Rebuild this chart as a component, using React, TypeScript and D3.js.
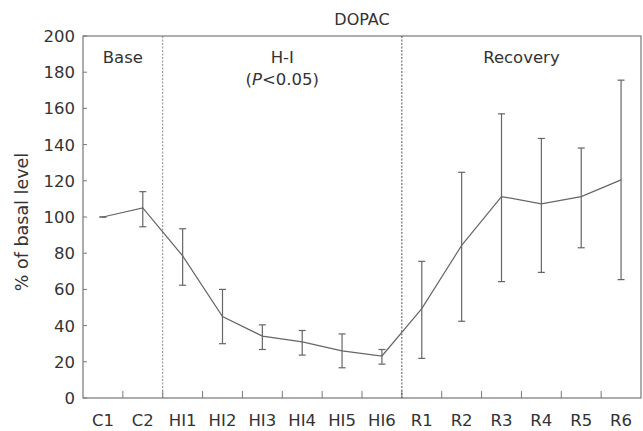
import React from "react";
import * as d3 from "d3";

const categories = ["C1", "C2", "HI1", "HI2", "HI3", "HI4", "HI5", "HI6", "R1", "R2", "R3", "R4", "R5", "R6"];
const means = [100, 105, 78.5, 45, 34.2, 31, 26, 23.2, 49.4, 84.3, 111.3, 107.3, 111.3, 120.5];
const upper = [100, 114, 93.5, 60, 40.4, 37.3, 35.4, 26.8, 75.5, 124.7, 157, 143.4, 138.1, 175.6];
const lower = [100, 94.6, 62.3, 30, 26.8, 23.7, 16.7, 18.7, 21.9, 42.4, 64.3, 69.4, 83, 65.4];
const yTicks = [0, 20, 40, 60, 80, 100, 120, 140, 160, 180, 200];
const phases = [
  { from: "C1", to: "C2", label: ["Base"] },
  { from: "HI1", to: "HI6", label: ["H-I", "(P<0.05)"] },
  { from: "R1", to: "R6", label: ["Recovery"] },
];
const title = "DOPAC";
const yTitle = "% of basal level";

const W = 643, H = 431;
const M = { left: 83, right: 2, top: 36, bottom: 33 };
const FONT = "'DejaVu Sans', Verdana, sans-serif";

export default function App() {
  const x = d3.scaleBand<string>().domain(categories).range([M.left, W - M.right]).padding(0);
  const y = d3.scaleLinear().domain([0, 200]).range([H - M.bottom, M.top]);
  const cx = (c: string) => (x(c) as number) + x.bandwidth() / 2;
  const line = d3.line<number>().x((_, i) => cx(categories[i])).y((d) => y(d));
  const axisColor = "#777";
  const dataColor = "#666";
  const textColor = "#333";
  const x0 = M.left, x1 = W - M.right, yb = y(0), yt = y(200);
  const boundaries = categories.slice(1).map((c) => x(c) as number);
  const dividers = [x("HI1") as number, x("R1") as number];
  const capHalf = 3.5;
  return (
    <svg width={W} height={H} style={{ position: "absolute", left: 0, top: 0, background: "#fff" }} fontFamily={FONT}>
      <text x={(x0 + x1) / 2} y={25} textAnchor="middle" fontSize={16} fill={textColor}>{title}</text>
      <rect x={x0} y={yt} width={x1 - x0} height={yb - yt} fill="none" stroke={axisColor} strokeWidth={1.2} />
      {yTicks.map((t) => (
        <g key={t}>
          <line x1={x0} x2={x0 + 4} y1={y(t)} y2={y(t)} stroke={axisColor} strokeWidth={1} />
          <text x={x0 - 8} y={y(t)} dy="0.36em" textAnchor="end" fontSize={16.5} fill={textColor}>{t}</text>
        </g>
      ))}
      {boundaries.map((b, i) => (
        <line key={i} x1={b} x2={b} y1={yb} y2={yb - 7} stroke={axisColor} strokeWidth={1} />
      ))}
      {categories.map((c) => (
        <text key={c} x={cx(c)} y={yb + 28} textAnchor="middle" fontSize={16.5} fill={textColor}>{c}</text>
      ))}
      <text transform={`translate(28,${(yt + yb) / 2 + 5}) rotate(-90)`} textAnchor="middle" fontSize={17.5} fill={textColor}>{yTitle}</text>
      {dividers.map((d, i) => (
        <line key={i} x1={d} x2={d} y1={yt} y2={yb} stroke={i === 0 ? "#888" : "#555"} strokeWidth={1} strokeDasharray="2,1.5" />
      ))}
      {phases.map((p, i) => {
        const px = ((x(p.from) as number) + (x(p.to) as number) + x.bandwidth()) / 2;
        return (
          <text key={i} x={px} y={63} textAnchor="middle" fontSize={16.5} fill={textColor}>
            {p.label.map((l, j) => (
              <tspan key={j} x={px} dy={j === 0 ? 0 : 22}>
                {l.startsWith("(P") ? (<><tspan>(</tspan><tspan fontStyle="italic">P</tspan><tspan>{l.slice(2)}</tspan></>) : l}
              </tspan>
            ))}
          </text>
        );
      })}
      {categories.map((c, i) => (
        <g key={c} stroke={dataColor} strokeWidth={1.2}>
          {upper[i] !== lower[i] && <line x1={cx(c)} x2={cx(c)} y1={y(upper[i])} y2={y(lower[i])} />}
          <line x1={cx(c) - capHalf} x2={cx(c) + capHalf} y1={y(upper[i])} y2={y(upper[i])} />
          <line x1={cx(c) - capHalf} x2={cx(c) + capHalf} y1={y(lower[i])} y2={y(lower[i])} />
        </g>
      ))}
      <path d={line(means) || ""} fill="none" stroke={dataColor} strokeWidth={1.2} />
    </svg>
  );
}
